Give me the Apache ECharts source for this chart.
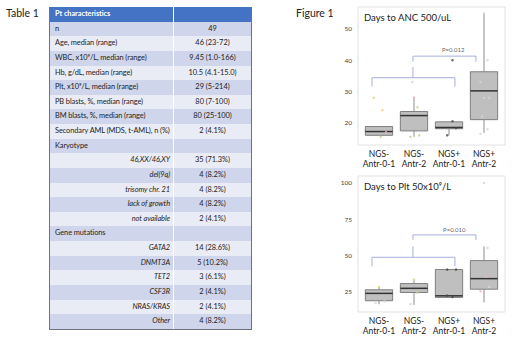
<!DOCTYPE html>
<html>
<head>
<meta charset="utf-8">
<script src="https://cdn.jsdelivr.net/npm/echarts@6/dist/echarts.min.js"></script>
<style>
html, body { margin: 0; padding: 0; background: #fff; }
#wrap { position: relative; width: 520px; height: 338px; overflow: hidden; }
#chart { position: absolute; left: 0; top: 0; width: 520px; height: 338px; }
#tbl { position: absolute; left: 49px; top: 7px; width: 203px; font-family: Lato, "Open Sans", sans-serif;
       font-size: 7.4px; color: #1e1e1e; border: 1px solid #6f7080; border-top: none; box-sizing: border-box; }
#tbl .row { display: flex; height: 14.64px; line-height: 14.64px; }
#tbl .c1 { width: 124px; padding: 0 3px 0 5px; box-sizing: border-box; border-right: 1px solid #fff; white-space: nowrap; letter-spacing: -0.08px; }
#tbl .c2 { flex: 1; text-align: center; }
#tbl .head { background: #4472c4; color: #fff; font-weight: bold; }
#tbl .dark { background: #cfd5ea; }
#tbl .light { background: #e9ebf5; }
#tbl .sub .c1 { text-align: right; font-style: italic; }
</style>
</head>
<body>
<div id="wrap">
  <div id="chart"></div>
  <div id="tbl"></div>
</div>
<script>
// table 1
var tableHead = ['Pt characteristics', ''];
var tableRows = [
  ['n', '49', 0],
  ['Age, median (range)', '46 (23-72)', 0],
  ['WBC, x10⁹/L, median (range)', '9.45 (1.0-166)', 0],
  ['Hb, g/dL, median (range)', '10.5 (4.1-15.0)', 0],
  ['Plt, x10⁹/L, median (range)', '29 (5-214)', 0],
  ['PB blasts, %, median (range)', '80 (7-100)', 0],
  ['BM blasts, %, median (range)', '80 (25-100)', 0],
  ['Secondary AML (MDS, t-AML), n (%)', '2 (4.1%)', 0],
  ['Karyotype', '', 0],
  ['46,XX/46,XY', '35 (71.3%)', 1],
  ['del(9q)', '4 (8.2%)', 1],
  ['trisomy chr. 21', '4 (8.2%)', 1],
  ['lack of growth', '4 (8.2%)', 1],
  ['not available', '2 (4.1%)', 1],
  ['Gene mutations', '', 0],
  ['GATA2', '14 (28.6%)', 1],
  ['DNMT3A', '5 (10.2%)', 1],
  ['TET2', '3 (6.1%)', 1],
  ['CSF3R', '2 (4.1%)', 1],
  ['NRAS/KRAS', '2 (4.1%)', 1],
  ['Other', '4 (8.2%)', 1]
];

// figure 1
var cats = ['NGS-\nAntr-0-1', 'NGS-\nAntr-2', 'NGS+\nAntr-0-1', 'NGS+\nAntr-2'];
// [min, q1, median, q3, max]
var ancBoxes = [
  [16.0, 16.0, 17.2, 18.8, 18.8],
  [15.5, 17.4, 22.3, 23.6, 28.3],
  [16.0, 18.1, 18.5, 20.3, 20.3],
  [16.8, 21.0, 30.2, 36.3, 55.0]
];
var pltBoxes = [
  [16.0, 18.4, 23.5, 26.0, 28.0],
  [15.5, 24.1, 27.0, 30.3, 33.0],
  [20.7, 20.7, 21.8, 40.0, 40.0],
  [17.3, 26.4, 33.7, 46.2, 56.0]
];
// jittered points [x, y, tone]
var ancPts = [
  [-0.15, 28, 0], [0.1, 24, 0], [0.05, 15.5, 1], [0.2, 17, 2],
  [0.95, 33, 4], [1.1, 25, 1], [0.9, 15.5, 1], [1.15, 16, 1], [1.0, 28, 2],
  [2.1, 40, 3], [2.1, 20.5, 3], [1.95, 16, 3], [2.2, 18.3, 3],
  [3.1, 40, 4], [2.9, 33, 4], [3.0, 28, 4], [3.15, 28, 4], [2.95, 22, 4], [3.1, 18, 4], [2.9, 16.5, 4], [3.0, 55, 4]
];
var pltPts = [
  [0.0, 28, 0], [0.15, 18, 4], [-0.1, 17, 4],
  [1.0, 33, 1], [0.9, 16, 4], [1.1, 24, 1],
  [1.95, 40, 3], [2.2, 40, 3], [2.1, 21, 3], [1.95, 22, 3],
  [3.0, 100, 4], [3.1, 55, 4], [2.9, 25, 2], [3.05, 35, 2], [3.15, 28, 4]
];
var tones = ['#e6d27a', '#b9dc95', '#efb4b4', '#444444', '#d6d6d6'];
var ancBrackets = [
  [[0.97, 39.5], [0.97, 41.3], [2.77, 41.3], [2.77, 39.5]],
  [[0.97, 37.8], [0.97, 34.4]],
  [[-0.2, 31.6], [-0.2, 34.4], [2.17, 34.4], [2.17, 31.6]]
];
var pltBrackets = [
  [[0.97, 60.6], [0.97, 64], [2.77, 64], [2.77, 60.6]],
  [[0.97, 56], [0.97, 48.5]],
  [[-0.2, 42.3], [-0.2, 48.5], [2.17, 48.5], [2.17, 42.3]]
];
var ancP = [2.12, 43.3, 'P=0.012'];
var pltP = [2.15, 67.5, 'P=0.010'];

// build table
var tbl = document.getElementById('tbl');
var html = '<div class="row head"><div class="c1">' + tableHead[0] + '</div><div class="c2">' + tableHead[1] + '</div></div>';
tableRows.forEach(function (r, i) {
  html += '<div class="row ' + (i % 2 === 0 ? 'dark' : 'light') + (r[2] ? ' sub' : '') + '">' +
    '<div class="c1">' + r[0] + '</div><div class="c2">' + r[1] + '</div></div>';
});
tbl.innerHTML = html;

var myChart = echarts.init(document.getElementById('chart'), null, { renderer: 'svg' });

function boxItem(params, api) {
  var x = api.value(0);
  var lo = api.coord([x, api.value(1)]);
  var q1 = api.coord([x, api.value(2)]);
  var md = api.coord([x, api.value(3)]);
  var q3 = api.coord([x, api.value(4)]);
  var hi = api.coord([x, api.value(5)]);
  var w = api.size([1, 0])[0] * 0.78;
  return {
    type: 'group',
    children: [
      { type: 'line', shape: { x1: lo[0], y1: lo[1], x2: q1[0], y2: q1[1] }, style: { stroke: '#8c8c8c', lineWidth: 1 } },
      { type: 'line', shape: { x1: q3[0], y1: q3[1], x2: hi[0], y2: hi[1] }, style: { stroke: '#8c8c8c', lineWidth: 1 } },
      { type: 'rect', shape: { x: q3[0] - w / 2, y: q3[1], width: w, height: q1[1] - q3[1] },
        style: { fill: '#bfbfbf', stroke: '#7f7f7f', lineWidth: 1 } },
      { type: 'line', shape: { x1: md[0] - w / 2, y1: md[1], x2: md[0] + w / 2, y2: md[1] }, style: { stroke: '#333', lineWidth: 1.5 } }
    ]
  };
}

function panelSeries(g, boxes, pts, brackets, p) {
  var s = [];
  s.push({
    type: 'custom', xAxisIndex: g, yAxisIndex: g, renderItem: boxItem,
    data: boxes.map(function (b, i) { return [i].concat(b); }),
    encode: { x: 0, y: [1, 2, 3, 4, 5] }, silent: true
  });
  s.push({
    type: 'scatter', xAxisIndex: g, yAxisIndex: g, symbolSize: 2.5, silent: true,
    data: pts.map(function (d) { return { value: [d[0], d[1]], itemStyle: { color: tones[d[2]] } }; })
  });
  brackets.forEach(function (b) {
    s.push({
      type: 'line', xAxisIndex: g, yAxisIndex: g, data: b, symbol: 'none', silent: true,
      lineStyle: { color: '#a7aee0', width: 1 }
    });
  });
  s.push({
    type: 'scatter', xAxisIndex: g, yAxisIndex: g, symbolSize: 0, silent: true,
    data: [[p[0], p[1]]],
    label: { show: true, position: 'inside', formatter: p[2], fontSize: 6, color: '#333', fontFamily: 'Lato' }
  });
  return s;
}

function xAx(g) {
  return {
    type: 'value', gridIndex: g, min: -0.6, max: 3.6,
    axisLine: { show: false }, axisTick: { show: false }, splitLine: { show: false },
    axisLabel: {
      customValues: [0, 1, 2, 3], formatter: function (v) { return cats[Math.round(v)]; },
      fontSize: 8.5, lineHeight: 9.8, color: '#222', margin: 4, fontFamily: 'Lato'
    }
  };
}
function yAx(g, min, max, ticks) {
  return {
    type: 'value', gridIndex: g, min: min, max: max,
    axisLine: { show: false }, axisTick: { show: false }, splitLine: { show: false },
    axisLabel: { customValues: ticks, fontSize: 6.5, color: '#444', margin: 6, fontFamily: 'Lato' }
  };
}

option = {
  animation: false,
  title: [
    { text: 'Table 1', left: 6, top: 7, padding: 0, textStyle: { fontSize: 10.5, fontWeight: 'normal', color: '#222', fontFamily: 'Lato' } },
    { text: 'Figure 1', left: 296, top: 7, padding: 0, textStyle: { fontSize: 10.5, fontWeight: 'normal', color: '#222', fontFamily: 'Lato' } },
    { text: 'Days to ANC 500/uL', left: 364, top: 12, padding: 0, textStyle: { fontSize: 9.5, fontWeight: 'normal', color: '#222', fontFamily: 'Lato' } },
    { text: 'Days to Plt 50x10⁹/L', left: 364, top: 181, padding: 0, textStyle: { fontSize: 9.5, fontWeight: 'normal', color: '#222', fontFamily: 'Lato' } }
  ],
  grid: [
    { left: 358, top: 7, width: 147, height: 138, show: true, borderColor: '#e2e2e2', borderWidth: 1 },
    { left: 358, top: 176, width: 147, height: 136, show: true, borderColor: '#e2e2e2', borderWidth: 1 }
  ],
  xAxis: [xAx(0), xAx(1)],
  yAxis: [yAx(0, 12.9, 57, [20, 30, 40, 50]), yAx(1, 10.6, 104.8, [25, 50, 75, 100])],
  series: panelSeries(0, ancBoxes, ancPts, ancBrackets, ancP).concat(panelSeries(1, pltBoxes, pltPts, pltBrackets, pltP))
};
myChart.setOption(option);
</script>
</body>
</html>
